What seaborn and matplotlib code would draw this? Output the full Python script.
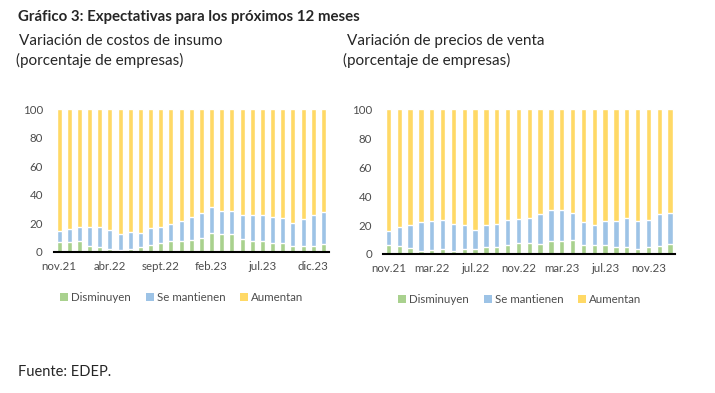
import numpy as np
import pandas as pd
import matplotlib
matplotlib.use("Agg")
import matplotlib.pyplot as plt
import seaborn as sns
from matplotlib.patches import Patch

# data
meses = ["nov.21", "dic.21", "ene.22", "feb.22", "mar.22", "abr.22", "may.22",
         "jun.22", "jul.22", "ago.22", "sept.22", "oct.22", "nov.22", "dic.22",
         "ene.23", "feb.23", "mar.23", "abr.23", "may.23", "jun.23", "jul.23",
         "ago.23", "sept.23", "oct.23", "nov.23", "dic.23", "ene.24"]

# costos de insumo
costos_disminuyen = [7.0, 6.7, 7.4, 4.4, 3.7, 2.0, 1.6, 2.0, 3.5, 5.0, 6.5, 7.4, 7.4, 8.6,
                     9.8, 13.0, 12.6, 12.8, 9.0, 7.4, 7.4, 6.5, 6.3, 4.4, 4.4, 4.4, 5.6]
costos_mantienen = [7.4, 9.6, 9.8, 12.8, 13.5, 13.1, 10.7, 12.2, 9.5, 11.5, 10.9, 12.4, 14.5, 15.6,
                    17.6, 18.2, 16.4, 15.6, 17.0, 18.2, 18.6, 17.7, 17.2, 15.6, 18.6, 21.6, 22.5]

# precios de venta
precios_disminuyen = [6.2, 5.3, 4.1, 2.3, 3.0, 3.2, 2.3, 3.2, 3.4, 4.6, 4.8, 6.0, 7.4, 7.6,
                      7.1, 9.0, 9.0, 9.7, 6.2, 6.0, 6.0, 5.0, 5.0, 3.2, 4.8, 5.5, 7.1]
precios_mantienen = [9.9, 13.6, 16.1, 20.0, 20.0, 20.2, 18.2, 17.0, 13.4, 15.6, 16.1, 17.4, 17.0, 17.4,
                     20.7, 21.6, 21.6, 18.6, 16.1, 14.0, 17.0, 17.8, 20.0, 19.8, 18.9, 22.3, 21.4]

series = ["Disminuyen", "Se mantienen", "Aumentan"]
colores = ["#A9D18E", "#9DC3E6", "#FFD966"]
gris = "#4d4d4d"

sns.set_style("white")
plt.rcParams["font.family"] = ["Lato", "DejaVu Sans"]

fig = plt.figure(figsize=(7.15, 3.93), dpi=100)
ax1 = fig.add_axes([0.0755, 0.3588, 0.384, 0.3638])
ax2 = fig.add_axes([0.5357, 0.3537, 0.409, 0.3689])


def stacked(ax, dism, mant, paso):
    df = pd.DataFrame({"mes": meses, "dism": dism, "mant": mant})
    df["acum_mant"] = df["dism"] + df["mant"]
    df["total"] = 100.0
    # draw from top of stack down so the lower segments sit on top
    for col, c in zip(["total", "acum_mant", "dism"], colores[::-1]):
        sns.barplot(data=df, x="mes", y=col, order=meses, color=c, width=0.5,
                    saturation=1, ax=ax)
    ax.set_xlim(-0.5, len(meses) - 0.5)
    ax.set_ylim(0, 100)
    ax.set_yticks([0, 20, 40, 60, 80, 100])
    ax.set_xlabel("")
    ax.set_ylabel("")
    idx = list(range(0, len(meses), paso))
    ax.set_xticks(idx)
    ax.set_xticklabels([meses[i] for i in idx])
    ax.set_xticks([i - 0.5 for i in idx], minor=True)
    ax.tick_params(axis="x", which="major", length=0, pad=6.5, labelsize=8.3, labelcolor=gris)
    ax.tick_params(axis="x", which="minor", length=3.5, width=1.5, color="black", direction="out")
    ax.tick_params(axis="y", length=0, pad=8, labelsize=8.3, labelcolor=gris)
    for s in ["top", "right", "left"]:
        ax.spines[s].set_visible(False)
    ax.spines["bottom"].set_color("black")
    ax.spines["bottom"].set_linewidth(1.5)


stacked(ax1, costos_disminuyen, costos_mantienen, 5)
stacked(ax2, precios_disminuyen, precios_mantienen, 4)

handles = [Patch(facecolor=c, edgecolor="none") for c in colores]
for cx, cy in [(0.254, 0.244), (0.727, 0.239)]:
    fig.legend(handles, series, loc="center", bbox_to_anchor=(cx, cy), ncol=3,
               frameon=False, fontsize=8.3, labelcolor=gris, handlelength=0.7,
               handleheight=0.7, handletextpad=0.25, columnspacing=1.3)

fig.text(0.025, 0.957, "Gráfico 3: Expectativas para los próximos 12 meses",
         fontsize=10.8, fontweight="bold", va="center", ha="left")
fig.text(0.027, 0.896, "Variación de costos de insumo", fontsize=11, va="center")
fig.text(0.022, 0.845, "(porcentaje de empresas)", fontsize=11, va="center")
fig.text(0.485, 0.896, "Variación de precios de venta", fontsize=11, va="center")
fig.text(0.480, 0.845, "(porcentaje de empresas)", fontsize=11, va="center")
fig.text(0.025, 0.053, "Fuente: EDEP.", fontsize=10.5, va="center")

fig.savefig("out.png", dpi=100)
